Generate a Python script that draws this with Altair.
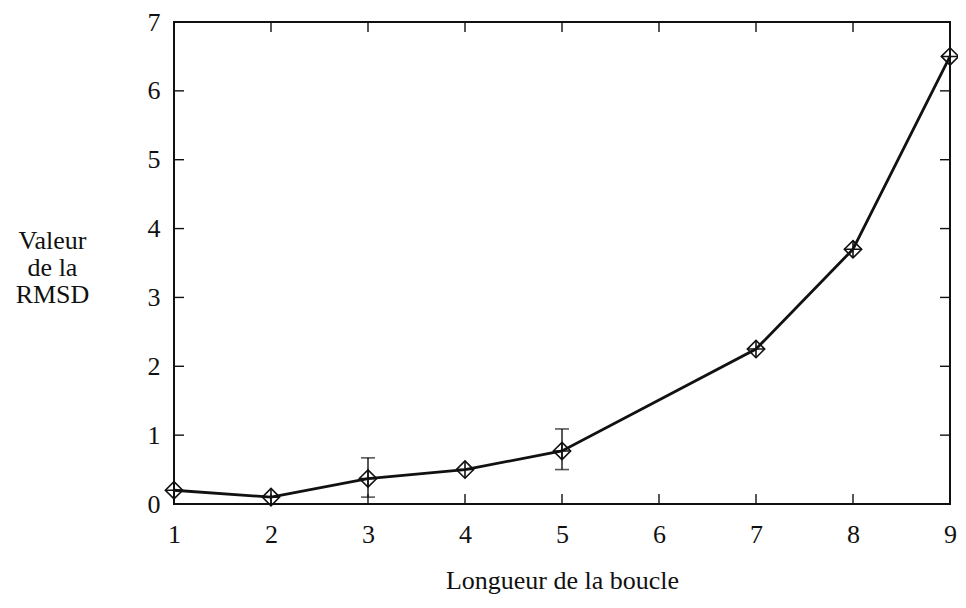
import altair as alt
import pandas as pd

# Data
loop_length = [1, 2, 3, 4, 5, 7, 8, 9]
rmsd_value = [0.2, 0.1, 0.37, 0.5, 0.77, 2.25, 3.7, 6.5]

err_x = [3, 5]
err_low = [0.1, 0.5]
err_high = [0.67, 1.09]

x_ticks = [1, 2, 3, 4, 5, 6, 7, 8, 9]
y_ticks = [0, 1, 2, 3, 4, 5, 6, 7]

W, H = 776, 482
FONT = "Liberation Serif"
FS = 26
INK = "#111111"

df = pd.DataFrame({"x": loop_length, "y": rmsd_value})
df_err = pd.DataFrame({"x": err_x, "lo": err_low, "hi": err_high})
df_xt = pd.DataFrame({"t": x_ticks})
df_yt = pd.DataFrame({"t": y_ticks})

xscale = alt.Scale(domain=[1, 9], nice=False, zero=False)
yscale = alt.Scale(domain=[0, 7], nice=False, zero=False)

x_axis = alt.Axis(
    values=x_ticks, format="d", domain=False, ticks=False, tickSize=0, grid=False,
    labelFont=FONT, labelFontSize=FS, labelColor=INK, labelPadding=38,
    labelBaseline="alphabetic", labelFlush=False, labelOverlap=False,
    title="Longueur de la boucle", titleFont=FONT, titleFontSize=FS,
    titleFontWeight="normal", titleColor=INK, titleBaseline="alphabetic",
    titleY=84,
)
y_axis = alt.Axis(
    values=y_ticks, format="d", domain=False, ticks=False, tickSize=0, grid=False,
    labelFont=FONT, labelFontSize=FS, labelColor=INK, labelPadding=14,
    labelBaseline="middle", labelFlush=False, labelOverlap=False,
    title=["Valeur", "de la", "RMSD"], titleFont=FONT, titleFontSize=FS,
    titleFontWeight="normal", titleColor=INK, titleAngle=0, titleAlign="center",
    titleBaseline="alphabetic", titleX=-122, titleY=226, titleLineHeight=27,
)


def X(field):
    return alt.X(field, scale=xscale, axis=x_axis)


def Y(field):
    return alt.Y(field, scale=yscale, axis=y_axis)


line = alt.Chart(df).mark_line(color=INK, strokeWidth=2.8).encode(
    x=X("x:Q"), y=Y("y:Q"),
)

diamonds = alt.Chart(df).mark_point(
    shape="diamond", filled=False, stroke=INK, strokeWidth=1.6, size=300, opacity=1
).encode(x=X("x:Q"), y=Y("y:Q"))

crosses = alt.Chart(df).mark_point(
    shape="M-1,0L1,0M0,-1L0,1", filled=False, stroke=INK, strokeWidth=1.6, size=300, opacity=1
).encode(x=X("x:Q"), y=Y("y:Q"))

err_rule = alt.Chart(df_err).mark_rule(color=INK, strokeWidth=1.4).encode(
    x=X("x:Q"), y=Y("lo:Q"), y2="hi:Q",
)
cap_lo = alt.Chart(df_err).mark_tick(orient="horizontal", color=INK, size=14, thickness=1.6).encode(
    x=X("x:Q"), y=Y("lo:Q"),
)
cap_hi = alt.Chart(df_err).mark_tick(orient="horizontal", color=INK, size=14, thickness=1.6).encode(
    x=X("x:Q"), y=Y("hi:Q"),
)

# inward ticks on all four sides
tb = alt.Chart(df_xt).mark_rule(color=INK, strokeWidth=1.4).encode(
    x=X("t:Q"), y=alt.value(H), y2=alt.value(H - 10)
)
tt = alt.Chart(df_xt).mark_rule(color=INK, strokeWidth=1.4).encode(
    x=X("t:Q"), y=alt.value(0), y2=alt.value(10)
)
tl = alt.Chart(df_yt).mark_rule(color=INK, strokeWidth=1.4).encode(
    y=Y("t:Q"), x=alt.value(0), x2=alt.value(10)
)
tr = alt.Chart(df_yt).mark_rule(color=INK, strokeWidth=1.4).encode(
    y=Y("t:Q"), x=alt.value(W), x2=alt.value(W - 10)
)

chart = alt.layer(
    line, tb, tt, tl, tr, err_rule, cap_lo, cap_hi, diamonds, crosses
).properties(
    width=W, height=H,
    autosize=alt.AutoSizeParams(type="none"),
    padding={"left": 166, "top": 14, "right": 8, "bottom": 90},
    background="white",
).configure_view(
    stroke=INK, strokeWidth=2
)

chart.save("out.html", embed_options={"renderer": "svg", "actions": False})
